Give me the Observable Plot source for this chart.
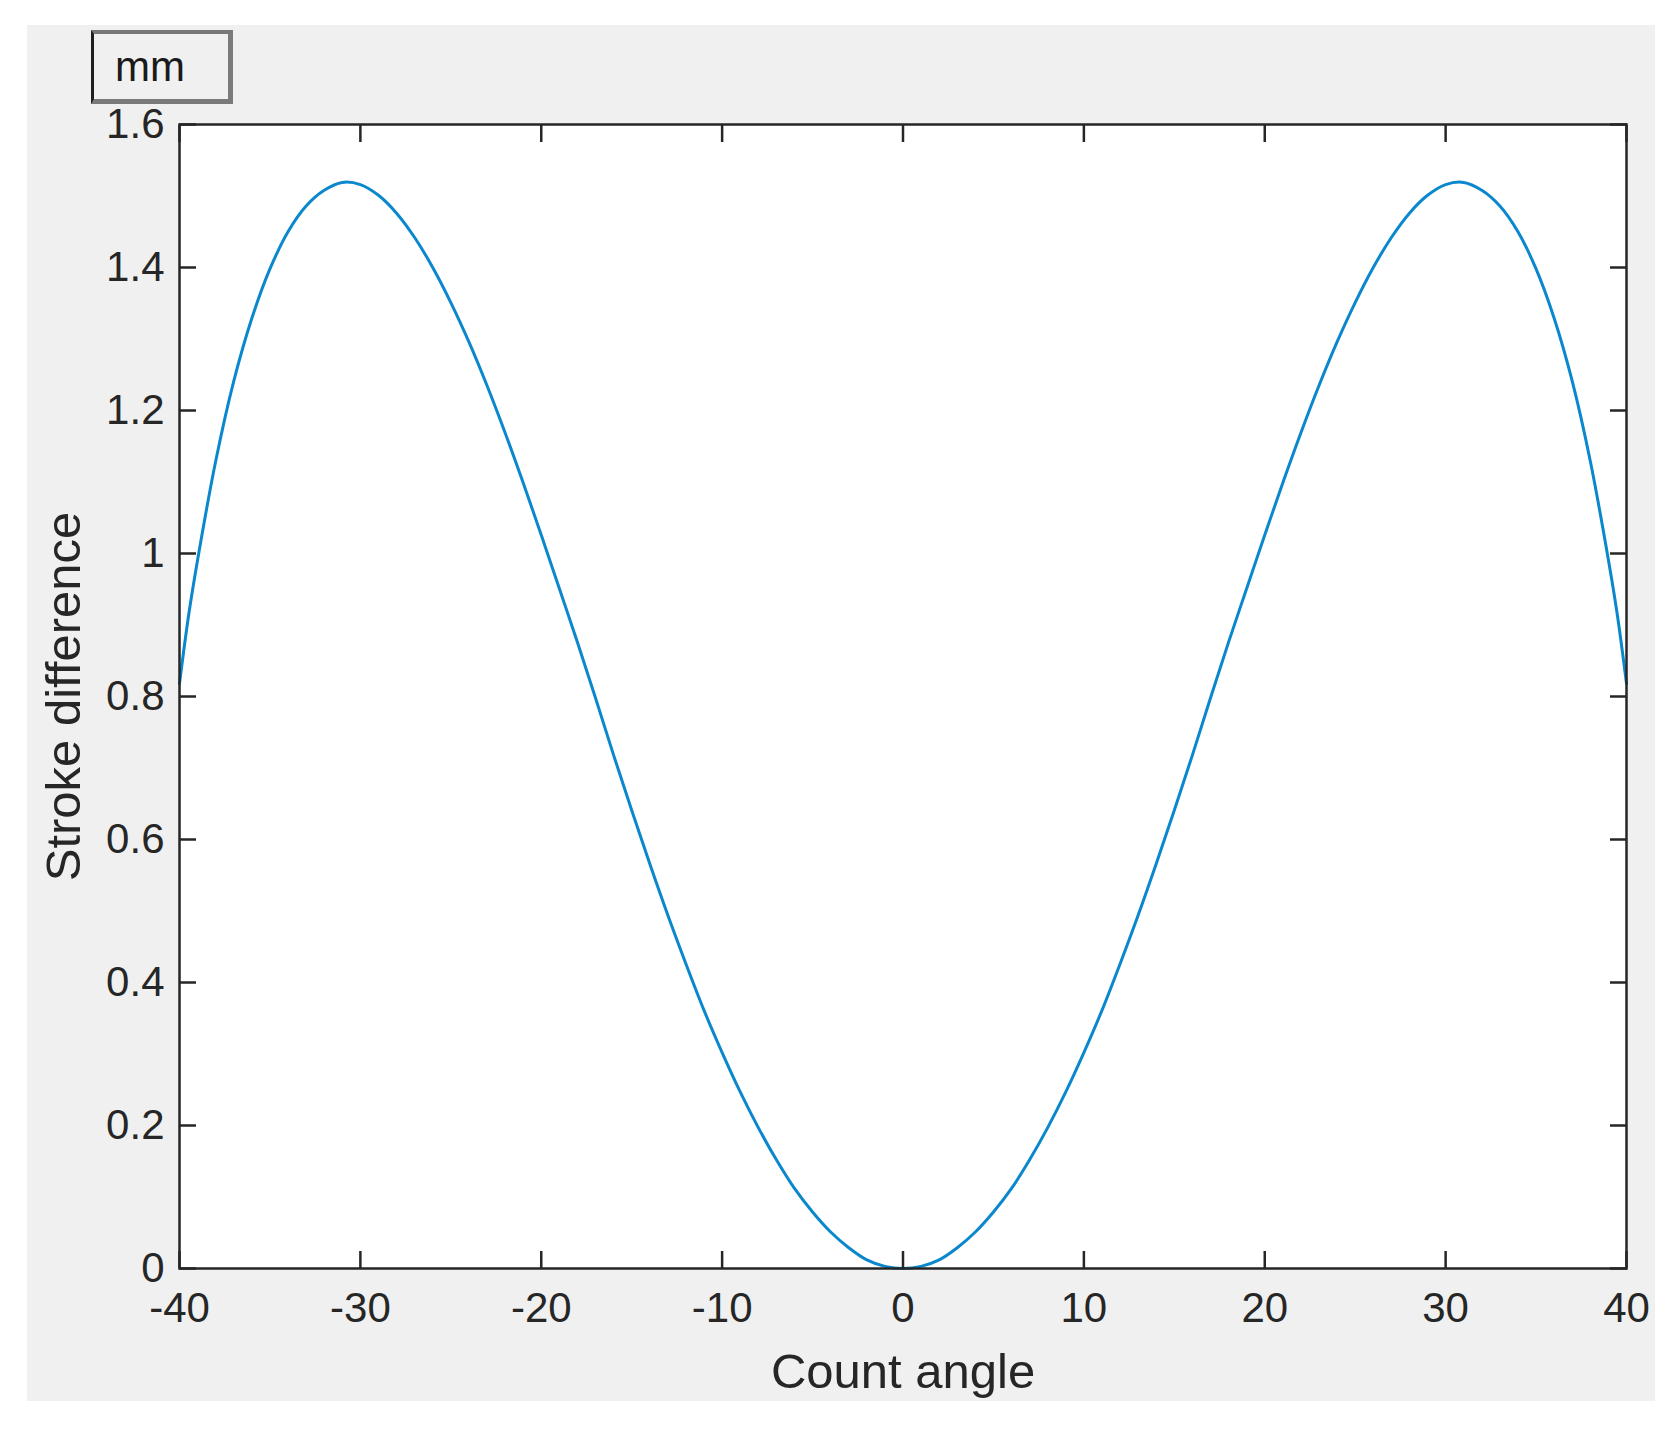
<!DOCTYPE html>
<html>
<head>
<meta charset="utf-8">
<script src="https://cdn.jsdelivr.net/npm/d3@7"></script>
<script src="https://cdn.jsdelivr.net/npm/@observablehq/plot@0.6"></script>
<style>
  html, body { margin: 0; padding: 0; background: #ffffff; }
  #wrap { position: relative; width: 1677px; height: 1430px; overflow: hidden; }
  #panel { position: absolute; left: 27px; top: 25px; width: 1628px; height: 1376px; background: #f0f0f0; }
  #chart { position: absolute; left: 0; top: 0; }
  #unit {
    position: absolute; left: 91px; top: 30px; width: 142px; height: 74px; box-sizing: border-box;
    background: #f0f0f0;
    border-left: 3px solid #1e1e1e; border-top: 4px solid #777777;
    border-right: 5px solid #7a7a7a; border-bottom: 5px solid #7a7a7a;
  }
  #unit span {
    position: absolute; left: 21px; top: 12px; font: 42px/1 "Liberation Sans", Arial, sans-serif; color: #1a1a1a;
  }
</style>
</head>
<body>
<div id="wrap">
  <div id="panel"></div>
  <div id="chart"></div>
  <div id="unit"><span>mm</span></div>
</div>
<script>
// Count angle (degrees) and stroke difference (mm)
const angle = [
  -40, -39.5, -39, -38, -37, -36, -35, -34, -33, -32, -31, -30, -29, -28, -27, -26, -25, -24, -23, -22, -21,
  -20, -19, -18, -17, -16, -15, -14, -13, -12, -11, -10, -9, -8, -7, -6, -5, -4, -3, -2, -1,
  0,
  1, 2, 3, 4, 5, 6, 7, 8, 9, 10, 11, 12, 13, 14, 15, 16, 17, 18, 19, 20,
  21, 22, 23, 24, 25, 26, 27, 28, 29, 30, 31, 32, 33, 34, 35, 36, 37, 38, 39, 39.5, 40
];
const strokeDiff = [
  0.818, 0.913, 0.991, 1.129, 1.241, 1.329, 1.398, 1.450, 1.486, 1.508, 1.519, 1.516, 1.501, 1.476, 1.442, 1.400, 1.351, 1.296, 1.235, 1.169, 1.099,
  1.026, 0.951, 0.876, 0.798, 0.718, 0.641, 0.566, 0.494, 0.426, 0.361, 0.302, 0.247, 0.197, 0.152, 0.112, 0.079, 0.051, 0.029, 0.012, 0.003,
  0.000,
  0.003, 0.012, 0.029, 0.051, 0.079, 0.112, 0.152, 0.197, 0.247, 0.302, 0.361, 0.426, 0.494, 0.566, 0.641, 0.718, 0.798, 0.876, 0.951, 1.026,
  1.099, 1.169, 1.235, 1.296, 1.351, 1.400, 1.442, 1.476, 1.501, 1.516, 1.519, 1.508, 1.486, 1.450, 1.398, 1.329, 1.241, 1.129, 0.991, 0.913, 0.818
];
const xTicks = [-40, -30, -20, -10, 0, 10, 20, 30, 40];
const yTicks = [0, 0.2, 0.4, 0.6, 0.8, 1, 1.2, 1.4, 1.6];
const xTitle = "Count angle";
const yTitle = "Stroke difference";

const data = angle.map((a, i) => ({angle: a, stroke: strokeDiff[i]}));

const ink = "#262626";
const tickMark = {tickSize: -17, tickFormat: () => "", strokeWidth: 2.5, label: null};

const chart = Plot.plot({
  width: 1677,
  height: 1430,
  marginLeft: 179,
  marginRight: 51,
  marginTop: 124,
  marginBottom: 162,
  style: {background: "transparent", fontFamily: "'Liberation Sans', Arial, sans-serif", color: ink, overflow: "visible"},
  x: {domain: [-40, 40]},
  y: {domain: [0, 1.6]},
  marks: [
    Plot.frame({fill: "white", stroke: null}),
    Plot.line(data, {x: "angle", y: "stroke", stroke: "#0a87cd", strokeWidth: 3, curve: "catmull-rom"}),
    Plot.axisX(xTicks, {anchor: "bottom", ...tickMark}),
    Plot.axisX(xTicks, {anchor: "top", ...tickMark}),
    Plot.axisY(yTicks, {anchor: "left", ...tickMark}),
    Plot.axisY(yTicks, {anchor: "right", ...tickMark}),
    Plot.axisX(xTicks, {anchor: "bottom", tickSize: 0, tickPadding: 24, fontSize: 42, label: null, tickFormat: d => String(d)}),
    Plot.axisY(yTicks, {anchor: "left", tickSize: 0, tickPadding: 15, fontSize: 42, label: null, tickFormat: d => String(d)}),
    Plot.axisX([], {anchor: "bottom", tickSize: 0, label: xTitle, labelAnchor: "center", labelArrow: "none", labelOffset: 119, fontSize: 49}),
    Plot.axisY([], {anchor: "left", tickSize: 0, label: yTitle, labelAnchor: "center", labelArrow: "none", labelOffset: 134, fontSize: 49}),
    Plot.frame({stroke: ink, strokeWidth: 2.5, fill: null})
  ]
});
document.getElementById("chart").appendChild(chart);
</script>
</body>
</html>
